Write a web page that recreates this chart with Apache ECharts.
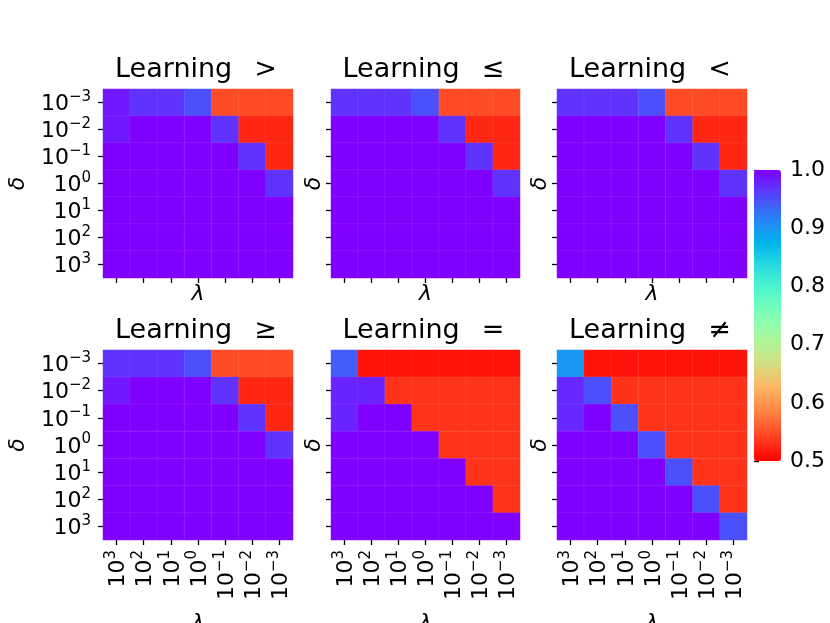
<!DOCTYPE html>
<html><head><meta charset="utf-8">
<script src="https://cdn.jsdelivr.net/npm/echarts@6/dist/echarts.min.js"></script>
<style>html,body{margin:0;padding:0;background:#fff}#c{width:830px;height:623px}</style>
</head><body><div id="c"></div>
<script>
// ---- data ----
const lambdaExponents = ['3', '2', '1', '0', '\u22121', '\u22122', '\u22123'];
const deltaExponents = ['\u22123', '\u22122', '\u22121', '0', '1', '2', '3'];
const titleRelations = ['>', '\u2264', '<', '\u2265', '=', '\u2260'];

const learningGT = [
  [0.985, 0.968, 0.968, 0.950, 0.548, 0.548, 0.548],
  [0.985, 1.000, 1.000, 1.000, 0.968, 0.524, 0.524],
  [1.000, 1.000, 1.000, 1.000, 1.000, 0.968, 0.524],
  [1.000, 1.000, 1.000, 1.000, 1.000, 1.000, 0.968],
  [1.000, 1.000, 1.000, 1.000, 1.000, 1.000, 1.000],
  [1.000, 1.000, 1.000, 1.000, 1.000, 1.000, 1.000],
  [1.000, 1.000, 1.000, 1.000, 1.000, 1.000, 1.000]
];
const learningLE = [
  [0.968, 0.968, 0.968, 0.950, 0.548, 0.548, 0.548],
  [1.000, 1.000, 1.000, 1.000, 0.968, 0.524, 0.524],
  [1.000, 1.000, 1.000, 1.000, 1.000, 0.968, 0.524],
  [1.000, 1.000, 1.000, 1.000, 1.000, 1.000, 0.968],
  [1.000, 1.000, 1.000, 1.000, 1.000, 1.000, 1.000],
  [1.000, 1.000, 1.000, 1.000, 1.000, 1.000, 1.000],
  [1.000, 1.000, 1.000, 1.000, 1.000, 1.000, 1.000]
];
const learningLT = [
  [0.968, 0.968, 0.968, 0.950, 0.548, 0.548, 0.548],
  [1.000, 1.000, 1.000, 1.000, 0.968, 0.524, 0.524],
  [1.000, 1.000, 1.000, 1.000, 1.000, 0.968, 0.524],
  [1.000, 1.000, 1.000, 1.000, 1.000, 1.000, 0.968],
  [1.000, 1.000, 1.000, 1.000, 1.000, 1.000, 1.000],
  [1.000, 1.000, 1.000, 1.000, 1.000, 1.000, 1.000],
  [1.000, 1.000, 1.000, 1.000, 1.000, 1.000, 1.000]
];
const learningGE = [
  [0.968, 0.968, 0.968, 0.950, 0.548, 0.548, 0.548],
  [0.985, 1.000, 1.000, 1.000, 0.968, 0.524, 0.524],
  [1.000, 1.000, 1.000, 1.000, 1.000, 0.968, 0.524],
  [1.000, 1.000, 1.000, 1.000, 1.000, 1.000, 0.968],
  [1.000, 1.000, 1.000, 1.000, 1.000, 1.000, 1.000],
  [1.000, 1.000, 1.000, 1.000, 1.000, 1.000, 1.000],
  [1.000, 1.000, 1.000, 1.000, 1.000, 1.000, 1.000]
];
const learningEQ = [
  [0.941, 0.511, 0.511, 0.511, 0.511, 0.511, 0.511],
  [0.979, 0.979, 0.532, 0.532, 0.532, 0.532, 0.532],
  [0.979, 1.000, 1.000, 0.532, 0.532, 0.532, 0.532],
  [1.000, 1.000, 1.000, 1.000, 0.532, 0.532, 0.532],
  [1.000, 1.000, 1.000, 1.000, 1.000, 0.532, 0.532],
  [1.000, 1.000, 1.000, 1.000, 1.000, 1.000, 0.532],
  [1.000, 1.000, 1.000, 1.000, 1.000, 1.000, 1.000]
];
const learningNE = [
  [0.900, 0.511, 0.511, 0.511, 0.511, 0.511, 0.511],
  [0.975, 0.950, 0.532, 0.532, 0.532, 0.532, 0.532],
  [0.975, 1.000, 0.950, 0.532, 0.532, 0.532, 0.532],
  [1.000, 1.000, 1.000, 0.950, 0.532, 0.532, 0.532],
  [1.000, 1.000, 1.000, 1.000, 0.950, 0.532, 0.532],
  [1.000, 1.000, 1.000, 1.000, 1.000, 0.950, 0.532],
  [1.000, 1.000, 1.000, 1.000, 1.000, 1.000, 0.950]
];
const panels = [learningGT, learningLE, learningLT, learningGE, learningEQ, learningNE];

// ---- styling / layout ----
const FF = '"DejaVu Sans", sans-serif';
const gridBoxes = [
  {left: 103, top: 89, width: 190, height: 189},
  {left: 331, top: 89, width: 189, height: 189},
  {left: 557, top: 89, width: 190, height: 189},
  {left: 103, top: 350, width: 190, height: 190},
  {left: 331, top: 350, width: 189, height: 190},
  {left: 557, top: 350, width: 190, height: 190}
];
const cbBox = {left: 754, top: 170, width: 27, height: 291};

// matplotlib 'rainbow' colormap (reversed), sampled for vmin=0.5 .. vmax=1.0
function rainbow(x) {
  const r = Math.min(1, Math.abs(2 * x - 0.5));
  const g = Math.max(0, Math.sin(Math.PI * x));
  const b = Math.max(0, Math.cos(Math.PI * x / 2));
  return 'rgb(' + Math.round(r * 255) + ',' + Math.round(g * 255) + ',' + Math.round(b * 255) + ')';
}
const cmap = [];
for (let k = 0; k <= 40; k++) { const v = 0.5 + k * 0.0125; cmap.push(rainbow(2 * (1 - v))); }

const rich = {
  b: {fontSize: 22, fontFamily: FF, color: '#000', lineHeight: 26, verticalAlign: 'bottom'},
  s: {fontSize: 15, fontFamily: FF, color: '#000', lineHeight: 15, verticalAlign: 'top'}
};
const powLabel = e => '{b|10}{s|' + e + '}';

const grid = [], xAxis = [], yAxis = [], series = [], graphic = [];
gridBoxes.forEach((g, i) => {
  const bottomRow = i >= 3, leftCol = i % 3 === 0;
  grid.push(Object.assign({containLabel: false, outerBoundsMode: 'none'}, g));
  xAxis.push({
    type: 'category', gridIndex: i, data: lambdaExponents, position: 'bottom',
    axisLine: {show: false},
    axisTick: {show: true, alignWithLabel: true, interval: 0, length: 5, lineStyle: {color: '#000', width: 1.3}},
    axisLabel: {show: bottomRow, interval: 0, rotate: 90, margin: 10, formatter: powLabel, rich: rich},
    splitLine: {show: false},
    name: '\u03bb', nameLocation: 'middle', nameGap: bottomRow ? 72 : 5,
    nameTextStyle: {fontSize: 22, fontStyle: 'italic', fontFamily: FF, color: '#000', verticalAlign: 'top'}
  });
  yAxis.push({
    type: 'category', gridIndex: i, data: deltaExponents, inverse: true,
    axisLine: {show: false},
    axisTick: {show: true, alignWithLabel: true, interval: 0, length: 5, lineStyle: {color: '#000', width: 1.3}},
    axisLabel: {show: leftCol, interval: 0, margin: 12, formatter: powLabel, rich: rich},
    splitLine: {show: false},
    name: '\u03b4', nameLocation: 'middle', nameRotate: 90, nameGap: leftCol ? 74 : 6,
    nameTextStyle: {fontSize: 22, fontStyle: 'italic', fontFamily: FF, color: '#000'}
  });
  const data = [];
  panels[i].forEach((row, r) => row.forEach((v, c) => data.push([c, r, v])));
  series.push({
    type: 'heatmap', xAxisIndex: i, yAxisIndex: i, data: data,
    itemStyle: {borderWidth: 0.6, borderColor: 'rgba(255,255,255,0.12)'},
    emphasis: {disabled: true}, silent: true
  });
  graphic.push({
    type: 'text', x: g.left + g.width / 2 - 2, y: bottomRow ? 331 : 70, silent: true,
    style: {text: 'Learning \u2002' + titleRelations[i], fontSize: 27, fontFamily: FF, fill: '#000', align: 'center', verticalAlign: 'middle'}
  });
});

// colorbar axis
grid.push(Object.assign({containLabel: false, outerBoundsMode: 'none'}, cbBox));
xAxis.push({type: 'value', gridIndex: 6, show: false});
yAxis.push({
  type: 'value', gridIndex: 6, min: 0.5, max: 1.0, interval: 0.1, position: 'right',
  axisLine: {show: false},
  axisTick: {show: true, length: 5, lineStyle: {color: '#000', width: 1.3}},
  axisLabel: {fontSize: 22, fontFamily: FF, color: '#000', margin: 9, formatter: v => v.toFixed(1)},
  splitLine: {show: false}
});

const chart = echarts.init(document.getElementById('c'), null, {renderer: 'canvas'});
chart.setOption({
  animation: false,
  backgroundColor: '#fff',
  grid: grid, xAxis: xAxis, yAxis: yAxis, series: series, graphic: graphic,
  visualMap: {
    type: 'continuous', min: 0.5, max: 1.0, dimension: 2, seriesIndex: [0, 1, 2, 3, 4, 5],
    calculable: false, realtime: false, hoverLink: false,
    orient: 'vertical', left: cbBox.left, top: cbBox.top, padding: 0,
    itemWidth: cbBox.width, itemHeight: cbBox.height,
    inRange: {color: cmap}, text: null, showLabel: false
  }
});
</script>
</body></html>
